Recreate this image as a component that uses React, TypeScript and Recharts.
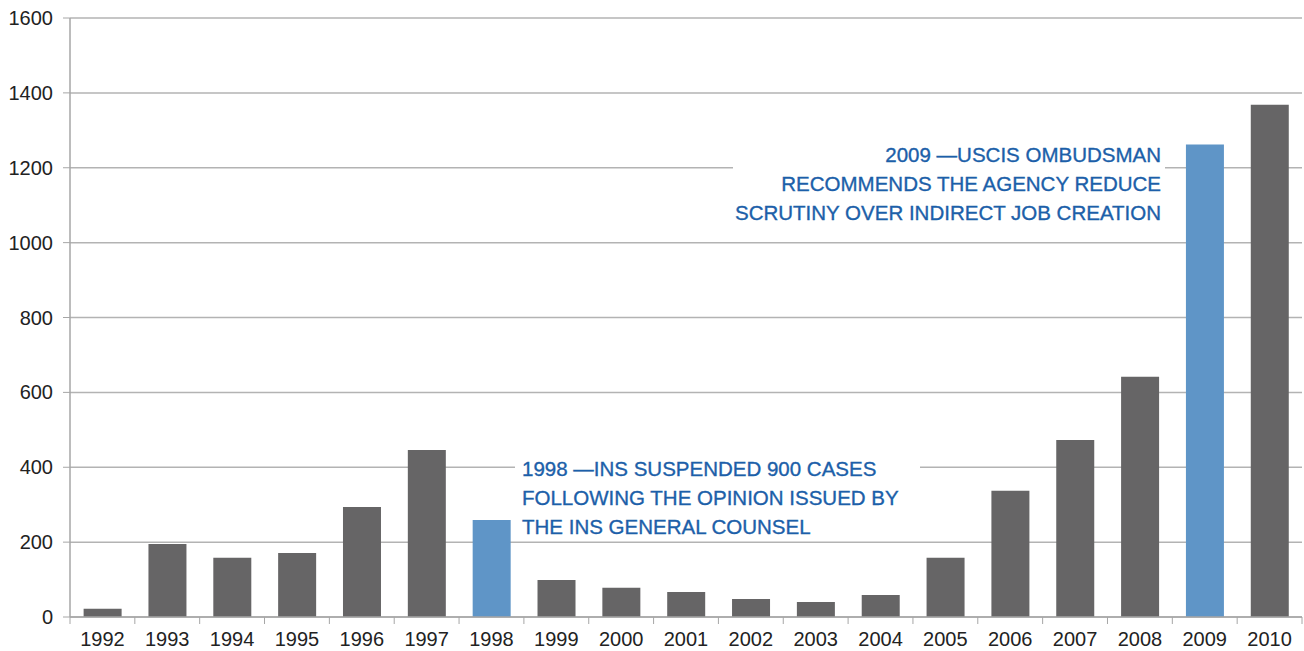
import { Bar, BarChart, CartesianGrid, Cell, XAxis, YAxis } from "recharts"

const years = [
  "1992", "1993", "1994", "1995", "1996", "1997", "1998", "1999", "2000", "2001",
  "2002", "2003", "2004", "2005", "2006", "2007", "2008", "2009", "2010",
]
const cases = [
  22, 195, 158, 171, 294, 446, 259, 99, 78, 67, 48, 40, 59, 158, 337, 473, 642, 1262, 1368,
]
const highlighted = ["1998", "2009"]
const yTicks = [0, 200, 400, 600, 800, 1000, 1200, 1400, 1600]

const note1998 = [
  "1998 \u2014INS SUSPENDED 900 CASES",
  "FOLLOWING THE OPINION ISSUED BY",
  "THE INS GENERAL COUNSEL",
]
const note2009 = [
  "2009 \u2014USCIS OMBUDSMAN",
  "RECOMMENDS THE AGENCY REDUCE",
  "SCRUTINY OVER INDIRECT JOB CREATION",
]

const data = years.map((year, i) => ({ year, cases: cases[i] }))

const WIDTH = 1304
const HEIGHT = 651
const PLOT_LEFT = 70
const PLOT_RIGHT = 2
const BAND = (WIDTH - PLOT_LEFT - PLOT_RIGHT) / years.length

const FONT = "'Liberation Sans', Arial, sans-serif"

function YearTick(props: any) {
  const { x, y, payload, index } = props
  const axisY = y - 8
  return (
    <g>
      <line x1={x - BAND / 2} x2={x - BAND / 2} y1={axisY} y2={axisY + 7} stroke="#a6a6a6" />
      {index === years.length - 1 && (
        <line x1={x + BAND / 2} x2={x + BAND / 2} y1={axisY} y2={axisY + 7} stroke="#a6a6a6" />
      )}
      <text x={x} y={axisY} dy={29} textAnchor="middle" fill="#222" fontSize={20} fontFamily={FONT}>
        {payload.value}
      </text>
    </g>
  )
}

const noteStyle = {
  position: "absolute" as const,
  background: "#fff",
  color: "#1c5fa9",
  fontFamily: FONT,
  fontSize: 20.5,
  lineHeight: "29px",
  whiteSpace: "nowrap" as const,
  WebkitTextStroke: "0.35px #1c5fa9",
  boxSizing: "border-box" as const,
}

export default function App() {
  return (
    <div style={{ position: "absolute", left: 0, top: 0, width: WIDTH, height: HEIGHT, background: "#fff" }}>
      <BarChart
        width={WIDTH}
        height={HEIGHT}
        data={data}
        margin={{ top: 18, right: PLOT_RIGHT, left: 0, bottom: 4 }}
        barCategoryGap="21%"
      >
        <CartesianGrid vertical={false} stroke="#b3b3b3" strokeWidth={1.5} />
        <XAxis
          dataKey="year"
          tick={<YearTick />}
          tickLine={false}
          tickSize={6}
          tickMargin={2}
          height={30}
          axisLine={{ stroke: "#a6a6a6", strokeWidth: 1.5 }}
          interval={0}
        />
        <YAxis
          width={PLOT_LEFT}
          domain={[0, 1600]}
          ticks={yTicks}
          interval={0}
          tickSize={7}
          tickMargin={10}
          axisLine={{ stroke: "#a6a6a6", strokeWidth: 1.5 }}
          tickLine={{ stroke: "#a6a6a6" }}
          tick={{ fill: "#222", fontSize: 20, fontFamily: FONT }}
        />
        <Bar dataKey="cases" isAnimationActive={false}>
          {data.map((d) => (
            <Cell key={d.year} fill={highlighted.includes(d.year) ? "#5f95c7" : "#666566"} />
          ))}
        </Bar>
      </BarChart>
      <div style={{ ...noteStyle, left: 515, top: 454, width: 405, paddingLeft: 7, textAlign: "left" }}>
        {note1998.map((line) => (
          <div key={line}>{line}</div>
        ))}
      </div>
      <div style={{ ...noteStyle, left: 733, top: 140, width: 432, paddingRight: 4, textAlign: "right" }}>
        {note2009.map((line) => (
          <div key={line}>{line}</div>
        ))}
      </div>
    </div>
  )
}
